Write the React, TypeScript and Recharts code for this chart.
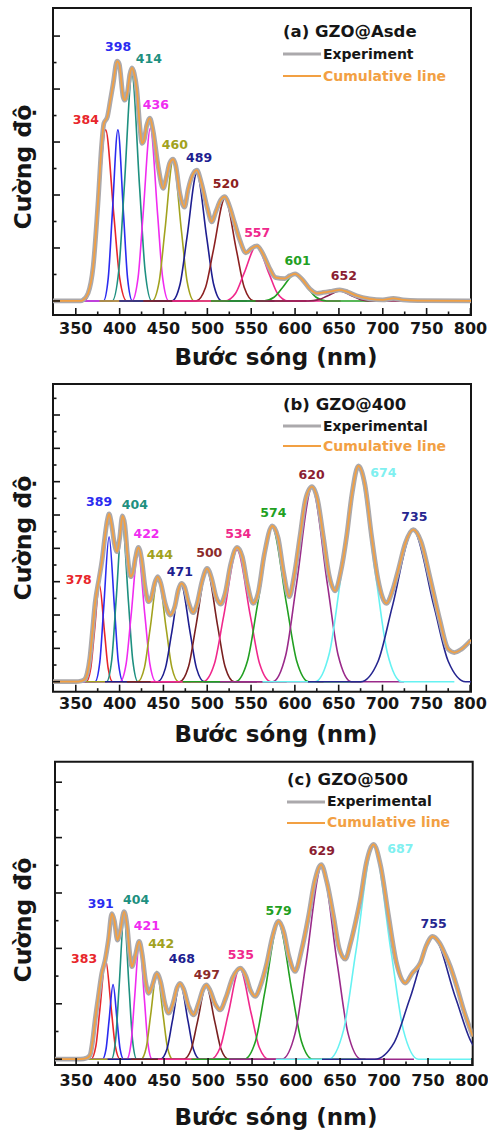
import React from 'react';
import { LineChart, Line, XAxis, YAxis, ReferenceArea, ReferenceDot, Legend } from 'recharts';

type Pt = [number, number];

const FONT = '"DejaVu Sans", "Liberation Sans", sans-serif';

// ---------- shared axis ticks (major every 50, minor every 25) ----------
const X_TICKS = [350, 375, 400, 425, 450, 475, 500, 525, 550, 575, 600, 625, 650, 675, 700, 725, 750, 775, 800];
const X_LABELLED = [350, 400, 450, 500, 550, 600, 650, 700, 750, 800];

// ---------- Panel (a) GZO@Asde ----------
const A_TITLE = '(a) GZO@Asde';
const A_EXP_NAME = 'Experiment';
const A_EXP: Pt[] = [
  [324, 0], [355, 0], [358.4, 0.04], [364, 0.29], [369.8, 1.3], [375.5, 3.8], [379.3, 5.82], [382, 6.7], [386, 6.95],
  [389.5, 7.6], [392.6, 8.2], [397, 9.05], [399.5, 8.95], [404, 7.7], [406, 7.58], [409, 7.9], [411.6, 8.55], [414, 8.8],
  [416.5, 8.6], [419.5, 8.0], [423, 6.6], [425.5, 5.95], [428, 6.1], [431, 6.65], [434.4, 6.9], [438, 6.45], [444, 5.07],
  [449.6, 4.25], [453.4, 4.69], [457, 5.2], [461, 5.35], [464, 5.1], [468.6, 4.06], [474, 3.54], [478, 4.2], [483, 4.75],
  [488, 4.94], [493.3, 4.44], [500, 3.5], [505, 2.99], [510, 3.4], [515, 3.8], [520, 3.94], [525, 3.6], [531, 2.95],
  [537, 2.3], [543.9, 1.82], [550.4, 1.99], [556.8, 2.08], [563, 1.8], [570, 1.3], [578, 0.88], [588, 0.84], [594, 0.95],
  [600, 1.02], [608, 0.82], [617, 0.45], [625, 0.29], [632, 0.32], [640, 0.36], [651, 0.42], [660, 0.34], [670, 0.2],
  [685, 0.08], [700, 0.04], [712, 0.1], [723, 0.04], [740, 0.01], [801, 0],
];
const A_COMPONENTS: Pt[][] = [
  [[360, 0], [368, 0.87], [374.6, 3.23], [384, 6.46], [393.4, 3.23], [400, 0.87], [408, 0]],
  [[381.5, 0], [387, 0.87], [391.5, 3.23], [398, 6.46], [404.5, 3.23], [409, 0.87], [414.5, 0]],
  [[391.5, 0], [399, 1.15], [405.2, 4.26], [414, 8.52], [422.8, 4.26], [429, 1.15], [436.5, 0]],
  [[414, 0], [421, 0.88], [426.7, 3.26], [435, 6.52], [443.3, 3.26], [449, 0.88], [456, 0]],
  [[437, 0], [445, 0.72], [451.6, 2.66], [461, 5.32], [470.4, 2.66], [477, 0.72], [485, 0]],
  [[459.5, 0], [469, 0.65], [476.8, 2.41], [488, 4.82], [499.2, 2.41], [507, 0.65], [516.5, 0]],
  [[487, 0], [498, 0.52], [507, 1.94], [520, 3.88], [533, 1.94], [542, 0.52], [553, 0]],
  [[520, 0], [532, 0.28], [541.8, 1.04], [556, 2.08], [570.2, 1.04], [580, 0.28], [592, 0]],
  [[564, 0], [576, 0.14], [585.8, 0.51], [600, 1.02], [614.2, 0.51], [624, 0.14], [636, 0]],
  [[615, 0], [627, 0.05], [636.8, 0.19], [651, 0.38], [665.2, 0.19], [675, 0.05], [687, 0]],
];
const A_PEAK_LABELS = ['384', '398', '414', '436', '460', '489', '520', '557', '601', '652'];
const A_LABEL_X = [361.4, 398.2, 433.3, 441.3, 462.9, 490.6, 521.1, 556.8, 602.9, 655.7];
const A_LABEL_Y = [6.86, 9.62, 9.17, 7.41, 5.9, 5.41, 4.43, 2.6, 1.54, 0.94];
const A_LABEL_COLORS = ['#E8262B', '#2B2BF0', '#1E9080', '#F02CF0', '#A2A21E', '#1E1E90', '#8C2020', '#F0288C', '#22A022', '#8A1E32'];
const A_LINE_COLORS = ['#E8262B', '#2B2BF0', '#1E9080', '#F02CF0', '#A2A21E', '#1E1E90', '#8C2020', '#F0288C', '#22A022', '#8A2050'];
const A_Y_TICKS = [0, 1, 2, 3, 4, 5, 6, 7, 8, 9, 10];

// ---------- Panel (b) GZO@400 ----------
const B_TITLE = '(b) GZO@400';
const B_EXP_NAME = 'Experimental';
const B_EXP: Pt[] = [
  [324, 0], [350, 0], [356, 0.04], [360.3, 0.15], [363, 0.5], [366, 1.4], [369, 3.0], [372, 4.7], [376.6, 6.2], [380, 7.3],
  [383, 8.6], [386, 9.7], [388, 10.06], [391, 9.4], [394, 8.3], [397, 7.8], [400, 8.6], [403.2, 9.94], [406, 9.4], [409, 7.6],
  [412.3, 6.3], [415, 6.5], [418, 7.4], [421.5, 8.06], [425, 7.4], [429, 5.7], [432.9, 4.8], [436, 5.0], [440, 5.9],
  [443.5, 6.3], [447, 5.9], [452, 4.7], [458, 4.0], [463, 4.5], [467, 5.5], [470.5, 5.9], [474, 5.7], [479, 4.7],
  [483.8, 4.14], [488, 4.6], [494, 6.0], [499.8, 6.8], [505, 6.2], [510, 5.1], [515.4, 4.66], [520, 5.2], [527, 7.1],
  [534, 8.06], [540, 7.5], [546, 5.8], [552.5, 4.7], [558, 5.3], [565, 7.6], [574.2, 9.34], [581, 8.6], [587, 6.6],
  [593.6, 5.1], [599, 6.3], [605.8, 8.7], [612, 10.9], [619.5, 11.7], [626, 10.9], [632.5, 8.7], [639, 6.4], [646, 5.45],
  [652, 6.5], [659, 8.7], [665, 11.2], [672.5, 12.94], [680, 11.8], [687.6, 8.7], [695, 6.1], [704.5, 4.7], [711, 5.4],
  [718, 6.7], [726, 8.3], [735, 9.12], [744, 8.4], [754, 6.3], [765, 3.8], [775, 1.95], [782, 1.75], [790, 1.95], [801, 2.5],
];
const B_COMPONENTS: Pt[][] = [
  [[362, 0], [367, 0.78], [371.1, 2.9], [377, 5.8], [382.9, 2.9], [387, 0.78], [392, 0]],
  [[372, 0], [377.4, 1.17], [381.75, 4.35], [388, 8.7], [394.25, 4.35], [398.6, 1.17], [404, 0]],
  [[385, 0], [391, 1.3], [395.9, 4.8], [403, 9.6], [410.1, 4.8], [415, 1.3], [421, 0]],
  [[400.6, 0], [407.4, 1.05], [413, 3.9], [421, 7.8], [429, 3.9], [434.6, 1.05], [441.4, 0]],
  [[420.6, 0], [428.4, 0.86], [434.8, 3.17], [444, 6.34], [453.2, 3.17], [459.6, 0.86], [467.4, 0]],
  [[443.3, 0], [452.2, 0.8], [459.5, 2.95], [470, 5.9], [480.5, 2.95], [487.8, 0.8], [496.7, 0]],
  [[468.3, 0], [478.7, 0.91], [487.2, 3.37], [499.5, 6.74], [511.8, 3.37], [520.3, 0.91], [530.7, 0]],
  [[495.3, 0], [508.2, 1.07], [518.8, 3.95], [534, 7.9], [549.2, 3.95], [559.8, 1.07], [572.7, 0]],
  [[532, 0], [546, 1.26], [557.5, 4.65], [574, 9.3], [590.5, 4.65], [602, 1.26], [616, 0]],
  [[574.5, 0], [589.5, 1.57], [601.8, 5.83], [619.5, 11.66], [637.2, 5.83], [649.5, 1.57], [664.5, 0]],
  [[623, 0], [639.5, 1.74], [653, 6.45], [672.5, 12.9], [692, 6.45], [705.5, 1.74], [722, 0]],
  [[675, 0], [695, 1.23], [711.4, 4.55], [735, 9.1], [758.6, 4.55], [775, 1.23], [795, 0]],
];
const B_PEAK_LABELS = ['378', '389', '404', '422', '444', '471', '500', '534', '574', '620', '674', '735'];
const B_LABEL_X = [353.4, 376.6, 417.4, 430.7, 445.9, 468.8, 502.3, 535.4, 575.4, 619.1, 701, 736.4];
const B_LABEL_Y = [6.14, 10.8, 10.6, 8.86, 7.6, 6.6, 7.74, 8.86, 10.16, 12.44, 12.56, 9.9];
const B_LABEL_COLORS = ['#E8262B', '#2B2BF0', '#1E9080', '#F02CF0', '#A2A21E', '#1E1E90', '#8C2B2B', '#F0288C', '#22A022', '#8A1E32', '#80F0F0', '#262690'];
const B_LINE_COLORS = ['#E8262B', '#2B2BF0', '#1E9080', '#F02CF0', '#A2A21E', '#1E1E90', '#7A2020', '#F0288C', '#22A022', '#9A2A8A', '#66F2F2', '#262690'];
const B_Y_TICKS = [0, 1, 2, 3, 4, 5, 6, 7, 8, 9, 10, 11, 12, 13, 14, 15, 16, 17];

// ---------- Panel (c) GZO@500 ----------
const C_TITLE = '(c) GZO@500';
const C_EXP_NAME = 'Experimental';
const C_EXP: Pt[] = [
  [326, 0], [355, 0], [362, 0.04], [365.9, 0.15], [368.5, 0.6], [371.6, 1.42], [375, 2.2], [379.2, 3.1], [383, 3.58],
  [386.7, 4.3], [390.6, 5.25], [393.5, 5.0], [397, 4.3], [400, 4.6], [404.6, 5.33], [408, 4.8], [411, 3.8], [413.4, 3.34],
  [417, 3.7], [421.7, 4.25], [425, 3.8], [429, 2.8], [432.3, 2.38], [436, 2.6], [441.8, 3.1], [446, 2.8], [451, 2.0],
  [455, 1.66], [460, 2.0], [465, 2.6], [468.3, 2.74], [472, 2.55], [478, 1.9], [483.5, 1.6], [489, 2.0], [494, 2.5],
  [497.9, 2.68], [502, 2.5], [508, 2.0], [513.8, 1.78], [520, 2.2], [528, 2.95], [536.6, 3.29], [543, 3.0], [548, 2.5],
  [553.6, 2.27], [560, 2.7], [566.8, 3.47], [573, 4.4], [580.1, 4.98], [586, 4.6], [592, 3.7], [599, 3.17], [606, 3.9],
  [614.2, 5.16], [621, 6.4], [628.6, 7.02], [635, 6.4], [642.6, 5.16], [649, 4.0], [655.9, 3.61], [662, 4.2], [668, 5.0],
  [673, 5.76], [680, 7.1], [688.1, 7.75], [696, 7.0], [705.2, 5.16], [714, 3.5], [724.1, 2.75], [732, 3.1], [741.2, 3.47],
  [748, 4.1], [755.2, 4.43], [763, 4.2], [770, 3.75], [775.3, 3.35], [783, 2.6], [790.5, 1.78], [801, 0.82],
];
const C_COMPONENTS: Pt[][] = [
  [[367, 0], [372.5, 0.48], [377, 1.8], [383.5, 3.59], [390, 1.8], [394.5, 0.48], [400, 0]],
  [[380, 0], [384, 0.36], [387.3, 1.35], [392, 2.69], [396.7, 1.35], [400, 0.36], [404, 0]],
  [[390.1, 0], [394.9, 0.7], [398.8, 2.58], [404.5, 5.16], [410.2, 2.58], [414.1, 0.7], [418.9, 0]],
  [[407.6, 0], [412.4, 0.57], [416.3, 2.13], [422, 4.25], [427.7, 2.13], [431.6, 0.57], [436.4, 0]],
  [[423.8, 0], [429.8, 0.43], [434.7, 1.59], [441.8, 3.17], [448.9, 1.59], [453.8, 0.43], [459.8, 0]],
  [[445.8, 0], [453.3, 0.37], [459.45, 1.38], [468.3, 2.75], [477.15, 1.38], [483.3, 0.37], [490.8, 0]],
  [[472.3, 0], [480.8, 0.36], [487.8, 1.33], [497.8, 2.65], [507.8, 1.33], [514.8, 0.36], [523.3, 0]],
  [[503, 0], [514, 0.44], [523, 1.65], [536, 3.29], [549, 1.65], [558, 0.44], [569, 0]],
  [[541, 0], [554, 0.66], [564.7, 2.46], [580, 4.92], [595.3, 2.46], [606, 0.66], [619, 0]],
  [[584, 0], [599, 0.94], [611.3, 3.48], [629, 6.96], [646.7, 3.48], [659, 0.94], [674, 0]],
  [[637, 0], [654, 1.05], [668, 3.88], [688, 7.75], [708, 3.88], [722, 1.05], [739, 0]],
  [[689.5, 0], [711.5, 0.6], [729.5, 2.2], [755.5, 4.43], [781.5, 2.2], [799.5, 0.6], [821.5, 0]],
];
const C_PEAK_LABELS = ['383', '391', '404', '421', '442', '468', '497', '535', '579', '629', '687', '755'];
const C_LABEL_X = [359.1, 378, 418.2, 430.4, 446.7, 470.2, 498.6, 537.3, 580.1, 629.4, 718.5, 756.4];
const C_LABEL_Y = [3.62, 5.63, 5.75, 4.82, 4.19, 3.65, 3.07, 3.77, 5.37, 7.53, 7.59, 4.88];
const C_LABEL_COLORS = ['#E8262B', '#2B2BF0', '#1E9080', '#F02CF0', '#A2A21E', '#1E1E90', '#8C2B2B', '#F0288C', '#22A022', '#8A1E32', '#80F0F0', '#262690'];
const C_LINE_COLORS = ['#E8262B', '#2B2BF0', '#1E9080', '#F02CF0', '#A2A21E', '#1E1E90', '#7A2020', '#F0288C', '#22A022', '#9A2A8A', '#66F2F2', '#262690'];
const C_Y_TICKS = [0, 1, 2, 3, 4, 5, 6, 7, 8, 9, 10];

const CUM_NAME = 'Cumulative line';
const EXP_COLOR = '#ABA9AC';
const CUM_COLOR = '#F2A043';
const INK = '#161616';

const toRows = (pts: Pt[]) => pts.map(([x, y]) => ({ x, y }));
// flat zero-baseline run on each side of a fitted component
const withBaseline = (pts: Pt[]) => toRows([[pts[0][0] - 60, 0], ...pts, [pts[pts.length - 1][0] + 60, 0]]);

type PanelProps = {
  top: number; height: number;
  margin: { top: number; right: number; bottom: number; left: number };
  xDomain: [number, number]; yDomain: [number, number];
  yTicks: number[];
  labelDrop: number;
  exp: Pt[]; expName: string; components: Pt[][];
  lineColors: string[]; labels: string[]; labelX: number[]; labelY: number[]; labelColors: string[];
  title: string; legendLeft: number; legendTop: number; legendRow: number;
};

const makeLegend = (title: string, row: number, expName: string) => (props: any) => {
  const all = props.payload || [];
  const order = [expName, CUM_NAME];
  const payload = order.map((n) => all.find((p: any) => p.value === n)).filter(Boolean);
  return (
    <div style={{ fontFamily: FONT, fontWeight: 700, textAlign: 'left' }}>
      <div style={{ fontSize: 16.5, color: INK, height: row + 1, lineHeight: row + 1 + 'px', whiteSpace: 'nowrap' }}>{title}</div>
      {payload.map((p: any) => (
        <div key={p.value} style={{ display: 'flex', alignItems: 'center', height: row, whiteSpace: 'nowrap' }}>
          <svg width={40} height={8} style={{ display: 'block' }}>
            <line x1={0} x2={38} y1={4} y2={4} stroke={p.value === CUM_NAME ? CUM_COLOR : EXP_COLOR} strokeWidth={p.value === CUM_NAME ? 2 : 3} />
          </svg>
          <span style={{ fontSize: 14, color: p.value === CUM_NAME ? CUM_COLOR : INK, lineHeight: row + 'px' }}>{p.value}</span>
        </div>
      ))}
    </div>
  );
};

const makeXTick = (labelDrop: number) => (props: any) => {
  const { x, y, payload } = props;
  const major = X_LABELLED.indexOf(payload.value) >= 0;
  return (
    <g>
      <line x1={x} x2={x} y1={y} y2={y - (major ? 7 : 3.5)} stroke={INK} strokeWidth={1.6} />
      {major && (
        <text x={x} y={y + labelDrop} textAnchor="middle" fill={INK} fontSize={16} fontWeight={700} fontFamily={FONT}>
          {payload.value}
        </text>
      )}
    </g>
  );
};

const makeYTick = () => (props: any) => {
  const { x, y, payload } = props;
  const major = payload.value % 2 === 0;
  return <line x1={x} x2={x + (major ? 7 : 3.5)} y1={y} y2={y} stroke={INK} strokeWidth={1.6} />;
};

function Panel(p: PanelProps) {
  return (
    <div style={{ position: 'absolute', left: 0, top: p.top }}>
      <LineChart width={488} height={p.height} margin={p.margin}>
        <XAxis dataKey="x" type="number" domain={p.xDomain} allowDataOverflow ticks={X_TICKS} interval={0}
          height={30} tickSize={0} tickMargin={0} axisLine={false} tickLine={false} tick={makeXTick(p.labelDrop)} />
        <YAxis type="number" domain={p.yDomain} allowDataOverflow ticks={p.yTicks} interval={0} width={10}
          tickSize={0} tickMargin={0} axisLine={false} tickLine={false} tick={makeYTick()} />
        {p.components.map((c, i) => (
          <Line key={'c' + i} data={withBaseline(c)} dataKey="y" type="monotone" stroke={p.lineColors[i]}
            strokeWidth={1.6} dot={false} isAnimationActive={false} legendType="none" name={p.labels[i]} />
        ))}
        <Line data={toRows(p.exp)} dataKey="y" type="monotone" stroke={EXP_COLOR} strokeWidth={4.8}
          dot={false} isAnimationActive={false} name={p.expName} legendType="line" />
        <Line data={toRows(p.exp)} dataKey="y" type="monotone" stroke={CUM_COLOR} strokeWidth={1.8}
          dot={false} isAnimationActive={false} name={CUM_NAME} legendType="line" />
        {p.labels.map((lab, i) => (
          <ReferenceDot key={'l' + i} x={p.labelX[i]} y={p.labelY[i]} r={0} fill="none" stroke="none" ifOverflow="visible"
            label={{ value: lab, position: 'center', fill: p.labelColors[i], fontSize: 12.5, fontWeight: 700, fontFamily: FONT }} />
        ))}
        <ReferenceArea x1={p.xDomain[0]} x2={p.xDomain[1]} y1={p.yDomain[0]} y2={p.yDomain[1]} fill="none"
          fillOpacity={0} stroke={INK} strokeWidth={2} ifOverflow="visible" />
        <Legend layout="vertical" align="center" verticalAlign="middle" content={makeLegend(p.title, p.legendRow, p.expName)}
          wrapperStyle={{ left: p.legendLeft, top: p.legendTop, width: 200, height: 70 }} />
      </LineChart>
    </div>
  );
}

const axisTitle = (cx: number, cy: number, text: string) => (
  <div style={{ position: 'absolute', left: cx - 150, top: cy - 14, width: 300, height: 28, lineHeight: '28px',
    textAlign: 'center', fontFamily: FONT, fontWeight: 700, fontSize: 23, color: INK, whiteSpace: 'nowrap' }}>{text}</div>
);
const yTitle = (cx: number, cy: number, text: string) => (
  <div style={{ position: 'absolute', left: cx - 80, top: cy - 14, width: 160, height: 28, lineHeight: '28px',
    textAlign: 'center', fontFamily: FONT, fontWeight: 700, fontSize: 23.5, color: INK, whiteSpace: 'nowrap',
    transform: 'rotate(-90deg)' }}>{text}</div>
);

export default function App() {
  return (
    <div style={{ position: 'absolute', left: 0, top: 0, width: 488, height: 1130, background: '#ffffff', overflow: 'hidden' }}>
      <Panel top={0} height={375} margin={{ top: 8, right: 17, bottom: 30, left: 43 }}
        xDomain={[324, 800.6]} yDomain={[-0.53, 11.06]} yTicks={A_Y_TICKS} labelDrop={18.8}
        exp={A_EXP} expName={A_EXP_NAME} components={A_COMPONENTS} lineColors={A_LINE_COLORS}
        labels={A_PEAK_LABELS} labelX={A_LABEL_X} labelY={A_LABEL_Y} labelColors={A_LABEL_COLORS}
        title={A_TITLE} legendLeft={283} legendTop={20} legendRow={22} />
      <Panel top={375} height={375} margin={{ top: 9, right: 17, bottom: 28.3, left: 43 }}
        xDomain={[324, 801]} yDomain={[-0.6, 17.86]} yTicks={B_Y_TICKS} labelDrop={17.4}
        exp={B_EXP} expName={B_EXP_NAME} components={B_COMPONENTS} lineColors={B_LINE_COLORS}
        labels={B_PEAK_LABELS} labelX={B_LABEL_X} labelY={B_LABEL_Y} labelColors={B_LABEL_COLORS}
        title={B_TITLE} legendLeft={283} legendTop={19} legendRow={20.5} />
      <Panel top={750} height={380} margin={{ top: 11.7, right: 15.3, bottom: 35, left: 45 }}
        xDomain={[326, 800.8]} yDomain={[-0.21, 10.74]} yTicks={C_Y_TICKS} labelDrop={20.8}
        exp={C_EXP} expName={C_EXP_NAME} components={C_COMPONENTS} lineColors={C_LINE_COLORS}
        labels={C_PEAK_LABELS} labelX={C_LABEL_X} labelY={C_LABEL_Y} labelColors={C_LABEL_COLORS}
        title={C_TITLE} legendLeft={287} legendTop={19} legendRow={21} />
      {axisTitle(276, 357, 'Bước sóng (nm)')}
      {axisTitle(276, 734, 'Bước sóng (nm)')}
      {axisTitle(276, 1117, 'Bước sóng (nm)')}
      {yTitle(23, 167, 'Cường độ')}
      {yTitle(23, 538, 'Cường độ')}
      {yTitle(23, 920, 'Cường độ')}
    </div>
  );
}
